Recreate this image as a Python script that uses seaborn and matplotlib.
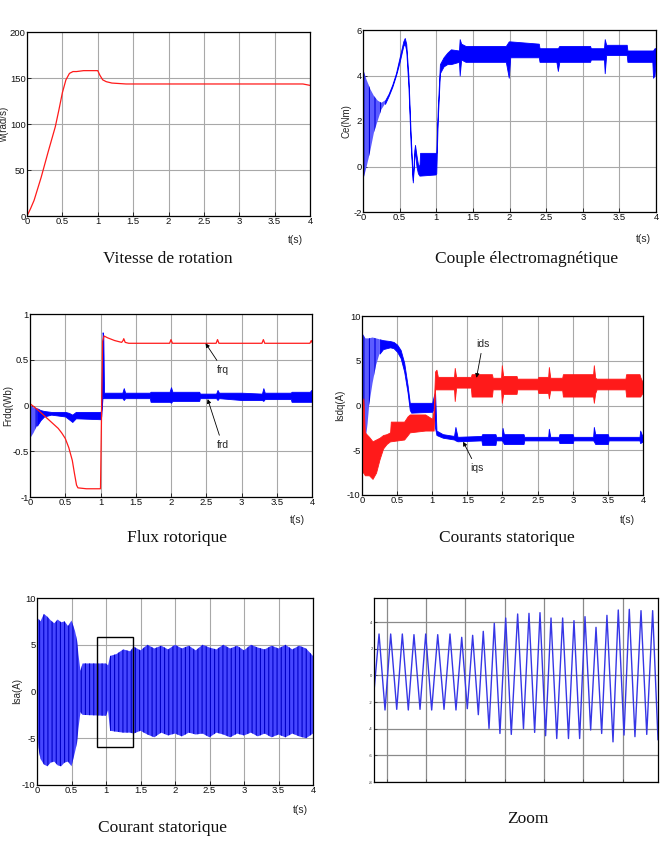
import numpy as np
import pandas as pd
import matplotlib
matplotlib.use('Agg')
import matplotlib.pyplot as plt
import seaborn as sns
from matplotlib.patches import Rectangle

# ---------- Vitesse de rotation ----------
t_w = [0, 0.05, 0.1, 0.2, 0.3, 0.4, 0.45, 0.5, 0.55, 0.6, 0.65, 0.7, 0.8, 0.9, 1.0,
       1.03, 1.07, 1.12, 1.2, 1.3, 1.4, 2.0, 2.7, 3.3, 3.9, 4.0]
w = [0, 8, 17, 42, 70, 97, 115, 134, 148, 155, 157, 157, 158, 158, 158,
     153, 148, 146, 144.5, 144, 143.5, 143.5, 143.5, 143.5, 143.5, 142]

# ---------- Couple electromagnetique (enveloppe haute / basse) ----------
t_ce = [0.00, 0.01, 0.05, 0.10, 0.15, 0.20, 0.25, 0.30, 0.35, 0.40, 0.45, 0.50, 0.55, 0.57,
        0.59, 0.62, 0.65, 0.68, 0.70, 0.71, 0.73, 0.75, 0.77, 0.78, 0.99, 1.00, 1.02, 1.05,
        1.10, 1.15, 1.20, 1.31, 1.32, 1.34, 1.40, 1.95, 1.99, 2.01, 2.40, 2.41, 2.64, 2.66,
        2.68, 3.10, 3.11, 3.29, 3.30, 3.32, 3.60, 3.61, 3.95, 3.96, 3.98, 4.00]
ce_hi = [4.3, 4.2, 3.8, 3.4, 3.1, 2.9, 2.8, 2.9, 3.2, 3.6, 4.1, 4.8, 5.5, 5.65,
         5.4, 4.0, 1.5, -0.6, 0.7, 0.95, 0.5, 0.1, 0.0, 0.6, 0.6, 0.6, 2.5, 4.5,
         4.8, 5.0, 5.15, 5.1, 5.6, 5.4, 5.3, 5.3, 5.5, 5.5, 5.4, 5.2, 5.2, 5.2,
         5.3, 5.3, 5.2, 5.2, 5.6, 5.35, 5.35, 5.1, 5.1, 5.1, 5.2, 5.2]
ce_lo = [3.0, -0.5, 0.0, 0.7, 1.5, 2.0, 2.5, 2.75, 3.1, 3.5, 4.0, 4.6, 5.3, 5.4,
         5.1, 3.5, 1.0, -0.7, 0.3, 0.7, 0.0, -0.3, -0.4, -0.4, -0.35, -0.3, 2.0, 4.1,
         4.4, 4.5, 4.5, 4.6, 4.0, 4.7, 4.6, 4.6, 3.9, 4.8, 4.8, 4.6, 4.6, 4.2,
         4.6, 4.6, 4.7, 4.7, 4.1, 4.9, 4.9, 4.6, 4.6, 3.9, 4.0, 4.8]
n_ce_osc = 8   # points 0 .. 0.30 s : oscillation amortie

# ---------- Flux rotorique ----------
t_frq = [0, 0.1, 0.2, 0.3, 0.4, 0.45, 0.5, 0.55, 0.6, 0.63, 0.66, 0.68, 0.8, 1.0, 1.02,
         1.03, 1.05, 1.1, 1.2, 1.3, 1.32, 1.33, 1.35, 1.4, 1.98, 2.0, 2.02, 2.64, 2.66,
         2.68, 3.29, 3.31, 3.33, 3.97, 3.99, 4.0]
frq = [0.02, -0.04, -0.11, -0.18, -0.25, -0.3, -0.36, -0.46, -0.6, -0.74, -0.87, -0.9,
       -0.91, -0.91, 0.2, 0.7, 0.76, 0.74, 0.71, 0.69, 0.71, 0.73, 0.69, 0.68, 0.68, 0.72,
       0.68, 0.68, 0.72, 0.68, 0.68, 0.72, 0.68, 0.68, 0.71, 0.69]

t_frd = [0.00, 0.01, 0.05, 0.10, 0.15, 0.20, 0.30, 0.40, 0.50, 0.55, 0.60, 0.65, 1.00,
         1.01, 1.03, 1.04, 1.05, 1.31, 1.33, 1.35, 1.70, 1.71, 1.98, 2.00, 2.02, 2.40,
         2.41, 2.64, 2.66, 2.68, 3.00, 3.29, 3.31, 3.33, 3.70, 3.71, 3.97, 3.99, 4.00]
frd_hi = [0.02, 0.0, -0.02, -0.03, -0.05, -0.06, -0.07, -0.07, -0.07, -0.08, -0.10, -0.07,
          -0.07, -0.05, 0.80, 0.75, 0.14, 0.14, 0.19, 0.14, 0.14, 0.15, 0.15, 0.20, 0.15,
          0.15, 0.13, 0.13, 0.17, 0.14, 0.14, 0.13, 0.19, 0.14, 0.14, 0.15, 0.15, 0.17, 0.14]
frd_lo = [-0.1, -0.35, -0.3, -0.22, -0.16, -0.12, -0.10, -0.11, -0.12, -0.15, -0.18, -0.14,
          -0.15, -0.12, 0.10, 0.08, 0.08, 0.08, 0.06, 0.08, 0.08, 0.04, 0.04, 0.03, 0.05,
          0.05, 0.08, 0.08, 0.06, 0.08, 0.06, 0.06, 0.05, 0.07, 0.07, 0.04, 0.04, 0.04, 0.06]

# ---------- Courants statoriques ----------
t_iqs = [0.00, 0.01, 0.05, 0.08, 0.10, 0.15, 0.20, 0.25, 0.30, 0.40, 0.45, 0.50, 0.55,
         0.60, 0.65, 0.68, 0.70, 1.00, 1.02, 1.04, 1.06, 1.15, 1.31, 1.33, 1.36, 1.70,
         1.71, 1.90, 1.91, 1.99, 2.00, 2.02, 2.30, 2.31, 2.65, 2.66, 2.68, 2.80, 2.81,
         3.00, 3.01, 3.29, 3.30, 3.32, 3.50, 3.51, 3.95, 3.96, 4.00]
iqs_hi = [0.0, 8.0, 7.5, 7.5, 7.5, 7.6, 7.5, 7.4, 7.3, 7.2, 7.1, 6.8, 6.2,
          4.8, 2.2, 0.3, 0.3, 0.3, 1.0, 1.5, -2.8, -3.2, -3.4, -2.4, -3.5, -3.4,
          -3.2, -3.2, -3.5, -3.5, -2.5, -3.2, -3.2, -3.5, -3.5, -2.6, -3.5, -3.5, -3.2,
          -3.2, -3.5, -3.5, -2.4, -3.2, -3.2, -3.5, -3.5, -2.8, -3.6]
iqs_lo = [-2.0, -5.0, -4.0, -2.0, 0.0, 2.5, 4.5, 5.8, 6.3, 6.5, 6.4, 6.0, 5.3,
          3.8, 1.4, -0.5, -0.8, -0.7, -0.3, -2.5, -3.3, -3.6, -3.8, -3.9, -4.0, -3.9,
          -4.4, -4.4, -3.9, -3.9, -4.0, -4.3, -4.3, -3.9, -3.9, -3.9, -3.9, -3.9, -4.2,
          -4.2, -3.9, -3.9, -4.0, -4.3, -4.3, -3.9, -3.9, -4.2, -4.0]
n_iqs_osc = 8   # points 0 .. 0.25 s

t_ids = [0.00, 0.02, 0.04, 0.10, 0.15, 0.20, 0.25, 0.30, 0.35, 0.40, 0.41, 0.60, 0.65,
         0.68, 0.90, 1.00, 1.02, 1.04, 1.06, 1.08, 1.31, 1.32, 1.34, 1.55, 1.56, 1.85,
         1.86, 1.98, 1.99, 2.01, 2.20, 2.21, 2.50, 2.51, 2.65, 2.66, 2.68, 2.85, 2.86,
         3.29, 3.30, 3.32, 3.34, 3.75, 3.76, 3.95, 3.96, 4.00]
ids_hi = [0.0, 0.8, -3.0, -3.5, -4.0, -3.8, -3.6, -3.3, -3.2, -3.0, -1.8, -1.8, -1.2,
          -1.0, -1.0, -1.5, -0.5, 3.8, 4.0, 3.2, 3.2, 4.2, 3.2, 3.2, 3.5, 3.5,
          3.1, 3.1, 4.5, 3.3, 3.3, 3.0, 3.0, 3.2, 3.2, 4.3, 3.1, 3.1, 3.5,
          3.5, 4.5, 3.1, 3.0, 3.0, 3.5, 3.5, 3.2, 2.5]
ids_lo = [-7.5, -7.5, -7.8, -7.8, -8.2, -7.5, -6.0, -4.8, -4.3, -4.0, -4.0, -3.8, -3.3,
          -3.0, -2.8, -2.8, -2.8, 1.8, 1.8, 1.8, 1.8, 0.5, 2.0, 2.0, 1.0, 1.0,
          1.8, 1.8, 0.3, 1.3, 1.3, 1.8, 1.8, 1.4, 1.4, 0.8, 1.7, 1.7, 1.0,
          1.0, 0.3, 1.4, 1.8, 1.8, 1.0, 1.0, 1.0, 1.5]

# ---------- Courant statorique isa (enveloppe) ----------
t_isa = [0.00, 0.02, 0.05, 0.10, 0.15, 0.20, 0.25, 0.30, 0.35, 0.40, 0.45, 0.50, 0.55,
         0.58, 0.60, 0.63, 0.66, 1.00, 1.03, 1.06, 1.15, 1.25, 1.35, 1.40, 1.50, 1.60,
         1.70, 1.80, 1.90, 2.00, 2.10, 2.20, 2.30, 2.40, 2.50, 2.60, 2.70, 2.80, 2.90,
         3.00, 3.10, 3.20, 3.30, 3.40, 3.50, 3.60, 3.70, 3.80, 3.90, 4.00]
isa_hi = [7.0, 7.8, 7.5, 8.3, 8.0, 7.6, 7.3, 7.7, 7.4, 7.5, 7.0, 7.6, 6.5,
          5.5, 4.0, 2.2, 3.0, 3.0, 2.8, 3.8, 4.0, 4.5, 4.3, 4.8, 4.4, 5.0,
          4.6, 4.9, 4.5, 5.0, 4.6, 4.9, 4.4, 5.0, 4.7, 4.5, 5.0, 4.6, 4.9,
          4.4, 5.0, 4.7, 4.5, 4.9, 4.6, 5.0, 4.5, 4.9, 4.6, 3.8]
isa_lo = [-4.0, -6.0, -7.2, -7.8, -8.0, -7.6, -7.5, -7.9, -8.0, -7.6, -7.5, -8.0, -6.5,
          -5.5, -4.0, -2.2, -2.5, -2.6, -2.0, -4.2, -4.3, -4.4, -4.4, -4.5, -4.2, -4.6,
          -4.9, -4.4, -4.7, -4.5, -4.8, -4.4, -4.6, -4.5, -4.9, -4.4, -4.6, -4.9, -4.5,
          -4.7, -4.4, -4.8, -4.5, -4.9, -4.6, -4.9, -4.5, -4.8, -5.0, -4.5]

# ---------- Zoom : crêtes et creux ----------
t_peak = [0.9404, 0.9552, 0.9700, 0.9848, 0.9997, 1.0150, 1.0306, 1.0455, 1.0594,
          1.0729, 1.0869, 1.1014, 1.1166, 1.1310, 1.1450, 1.1590, 1.1738, 1.1882,
          1.2022, 1.2162, 1.2301, 1.2445, 1.2585, 1.2734, 1.2882]
v_peak = [3.1, 3.1, 3.1, 3.05, 3.1, 3.05, 3.1, 2.85, 3.0,
          3.3, 3.9, 4.3, 4.6, 4.65, 4.7, 4.3, 4.3, 4.1,
          4.4, 3.6, 4.5, 4.9, 4.95, 4.85, 4.85]
t_trough = [0.9340, 0.9480, 0.9629, 0.9776, 0.9925, 1.0073, 1.0230, 1.0382, 1.0526,
            1.0666, 1.0802, 1.0941, 1.1085, 1.1240, 1.1382, 1.1521, 1.1663, 1.1812,
            1.1954, 1.2094, 1.2234, 1.2378, 1.2518, 1.2657, 1.2807, 1.2950]
v_trough = [-1.2, -2.6, -2.55, -2.6, -2.55, -2.6, -2.55, -2.6, -2.5,
            -2.95, -3.98, -4.36, -4.43, -4.0, -4.28, -4.53, -4.74, -4.74,
            -4.74, -4.1, -4.36, -4.99, -4.48, -4.6, -4.43, -4.84]

zoom_df = pd.concat([pd.DataFrame({'t': t_peak, 'v': v_peak}),
                     pd.DataFrame({'t': t_trough, 'v': v_trough})]).sort_values('t')

# ---------- style ----------
sns.set_theme(style='ticks')
plt.rcParams['font.family'] = ['Liberation Sans', 'DejaVu Sans']
plt.rcParams['hatch.linewidth'] = 0.8

RED = '#ff1a1a'
BLUE = '#0000ff'
W, H = 663, 852

fig = plt.figure(figsize=(W / 100, H / 100), dpi=100)


def box(x0, y0, x1, y1):
    return fig.add_axes([x0 / W, 1 - y1 / H, (x1 - x0) / W, (y1 - y0) / H])


def style(ax, ylim, yticks, ylabel, lab_x):
    ax.set_xlim(0, 4)
    ax.set_ylim(*ylim)
    ax.set_xticks([0, 0.5, 1, 1.5, 2, 2.5, 3, 3.5, 4])
    ax.set_xticklabels(['0', '0.5', '1', '1.5', '2', '2.5', '3', '3.5', '4'])
    ax.set_yticks(yticks)
    ax.set_yticklabels([f'{v:g}' for v in yticks])
    ax.grid(True, color='#a8a8a8', linewidth=0.8)
    ax.tick_params(direction='in', length=3, width=0.6, labelsize=6.8, pad=1,
                   colors='#111111')
    for s in ax.spines.values():
        s.set_color('black')
        s.set_linewidth(0.9)
    ax.set_ylabel(ylabel, fontsize=7)
    ax.yaxis.set_label_coords(lab_x, 0.5)
    ax.set_xlabel('')


def band(ax, t, lo, hi, color, hatch_color, n_osc):
    # partie oscillante : hachures verticales, reste : bande pleine
    ax.fill_between(t[:n_osc], lo[:n_osc], hi[:n_osc], facecolor='#5c5cff',
                    edgecolor=hatch_color, hatch='|||', linewidth=0)
    ax.fill_between(t[n_osc - 1:], lo[n_osc - 1:], hi[n_osc - 1:], color=color,
                    linewidth=0.6)


def label(x, y, txt, **kw):
    fig.text(x / W, 1 - y / H, txt, ha='center', va='center', **kw)


serif = dict(family='Liberation Serif', fontsize=12.5, color='#111111')

# 1 - vitesse
ax1 = box(27, 32, 310, 216)
sns.lineplot(x=t_w, y=w, ax=ax1, color=RED, linewidth=0.9, sort=False)
style(ax1, (0, 200), [0, 50, 100, 150, 200], 'w(rad/s)', -0.062)
label(295, 240, 't(s)', fontsize=7.5)
label(168, 259, 'Vitesse de rotation', **serif)

# 2 - couple
ax2 = box(363, 30, 656, 212)
band(ax2, t_ce, ce_lo, ce_hi, BLUE, '#0000dd', n_ce_osc)
style(ax2, (-2, 6), [-2, 0, 2, 4, 6], 'Ce(Nm)', -0.038)
label(643, 239, 't(s)', fontsize=7.5)
label(527, 259, 'Couple électromagnétique', **serif)

# 3 - flux
ax3 = box(30, 314, 312, 497)
band(ax3, t_frd, frd_lo, frd_hi, BLUE, '#0000dd', 4)
sns.lineplot(x=t_frq, y=frq, ax=ax3, color=RED, linewidth=0.9, sort=False)
style(ax3, (-1, 1), [-1, -0.5, 0, 0.5, 1], 'Frdq(Wb)', -0.06)
arrow = dict(arrowstyle='-|>', color='black', lw=0.6, mutation_scale=6, shrinkA=1, shrinkB=0)
ax3.annotate('frq', xy=(2.49, 0.68), xytext=(2.74, 0.39), fontsize=7.5,
             ha='center', va='center', arrowprops=arrow)
ax3.annotate('frd', xy=(2.52, 0.07), xytext=(2.73, -0.43), fontsize=7.5,
             ha='center', va='center', arrowprops=arrow)
label(297, 520, 't(s)', fontsize=7.5)
label(177, 538, 'Flux rotorique', **serif)

# 4 - courants dq
ax4 = box(362, 316, 643, 495)
band(ax4, t_iqs, iqs_lo, iqs_hi, BLUE, '#0000dd', n_iqs_osc)
ax4.fill_between(t_ids, ids_lo, ids_hi, color=RED, linewidth=0.6)
style(ax4, (-10, 10), [-10, -5, 0, 5, 10], 'Isdq(A)', -0.06)
ax4.annotate('ids', xy=(1.63, 3.1), xytext=(1.72, 6.9), fontsize=7.5,
             ha='center', va='center', arrowprops=arrow)
ax4.annotate('iqs', xy=(1.44, -4.05), xytext=(1.63, -7.0), fontsize=7.5,
             ha='center', va='center', arrowprops=arrow)
label(627, 520, 't(s)', fontsize=7.5)
label(507, 538, 'Courants statorique', **serif)

# 5 - isa
ax5 = box(37, 598, 313, 785)
ax5.fill_between(t_isa, isa_lo, isa_hi, facecolor='#4646ff', edgecolor='#0000c8',
                 hatch='||||', linewidth=0)
style(ax5, (-10, 10), [-10, -5, 0, 5, 10], 'Isa(A)', -0.054)
ax5.add_patch(Rectangle((0.87, -5.9), 0.52, 11.7, fill=False, edgecolor='black',
                        linewidth=1.0, zorder=5))
label(300, 810, 't(s)', fontsize=7.5)
label(162, 828, 'Courant statorique', **serif)

# 6 - zoom
ax6 = box(374, 598, 658, 782)
sns.lineplot(data=zoom_df, x='t', y='v', ax=ax6, color='#3636e6', linewidth=1.0, sort=False)
ax6.set_xlim(0.934, 1.295)
ax6.set_ylim(-8, 5.8)
ax6.set_xticks([0.95, 1.0, 1.05, 1.1, 1.15, 1.2, 1.25])
ax6.set_xticklabels([])
ax6.set_yticks([-8, -6, -4, -2, 0, 2, 4])
ax6.set_yticklabels(['-8', '-6', '-4', '-2', '0', '2', '4'])
ax6.grid(True, color='#8a8a8a', linewidth=0.9)
ax6.tick_params(direction='in', length=2, width=0.5, labelsize=3, pad=1, colors='#333333')
for s in ax6.spines.values():
    s.set_color('black')
    s.set_linewidth(0.9)
ax6.set_xlabel('')
ax6.set_ylabel('')
label(528, 819, 'Zoom', **serif)

fig.savefig('out.png', dpi=100)
